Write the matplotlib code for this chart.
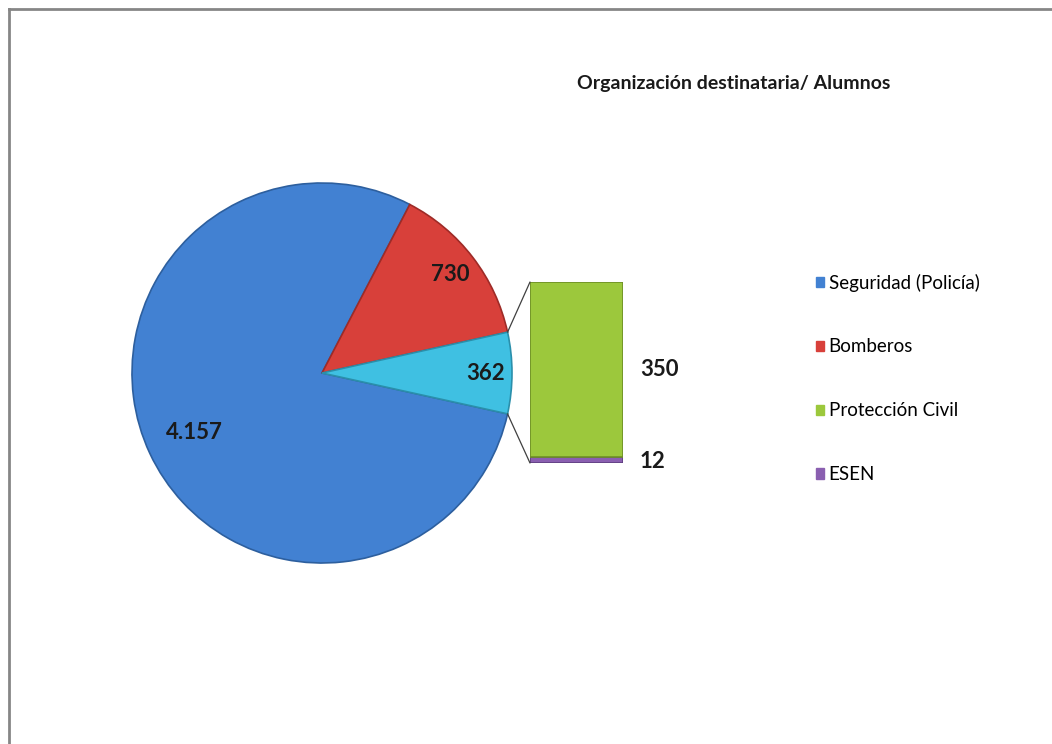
import matplotlib
matplotlib.use("Agg")
import matplotlib.pyplot as plt
from matplotlib.patches import Patch, ConnectionPatch
from matplotlib.lines import Line2D
import numpy as np

# data
pie_labels = ["Seguridad (Policía)", "Bomberos", "Otros"]
pie_values = [4157, 730, 362]
pie_texts = ["4.157", "730", "362"]
bar_labels = ["ESEN", "Protección Civil"]
bar_values = [12, 350]
bar_texts = ["12", "350"]
legend_labels = ["Seguridad (Policía)", "Bomberos", "Protección Civil", "ESEN"]

pie_colors = ["#4281d2", "#d8403a", "#3fc0e2"]
pie_edges = ["#2d5f9e", "#9e2b27", "#2a8fab"]
bar_colors = ["#8a5fb0", "#9cc83c"]
bar_edges = ["#5f3f80", "#6e8f26"]
legend_colors = ["#4281d2", "#d8403a", "#9cc83c", "#8a5fb0"]

plt.rcParams["font.family"] = ["Lato", "DejaVu Sans"]

W, H = 1052, 744
fig = plt.figure(figsize=(W / 100, H / 100), dpi=100)


def px_axes(x0, y0, x1, y1):
    # pixel box (top-left origin) -> figure fraction axes
    return fig.add_axes([x0 / W, 1 - y1 / H, (x1 - x0) / W, (y1 - y0) / H])


# pie of the main groups
cx, cy, r = 322, 373, 190
ax_pie = px_axes(cx - r, cy - r, cx + r, cy + r)
other_frac = pie_values[2] / sum(pie_values)
start = -180 * other_frac
wedges, _ = ax_pie.pie(pie_values, colors=pie_colors, startangle=start,
                       counterclock=False, radius=1,
                       wedgeprops=dict(linewidth=1.2))
for w, ec in zip(wedges, pie_edges):
    w.set_edgecolor(ec)
ax_pie.set_xlim(-1, 1)
ax_pie.set_ylim(-1, 1)
ax_pie.set_aspect("equal")
ax_pie.axis("off")

label_dist = [0.74, 0.85, 0.86]
for w, txt, d in zip(wedges, pie_texts, label_dist):
    mid = np.deg2rad((w.theta1 + w.theta2) / 2)
    ax_pie.text(d * np.cos(mid), d * np.sin(mid), txt, ha="center",
                va="center", fontsize=16, fontweight="bold", color="#1a1a1a")

# bar splitting the "other" slice
ax_bar = px_axes(530, 282, 623, 463)
bottom = 0
for v, c, ec in zip(bar_values, bar_colors, bar_edges):
    ax_bar.bar(0, v, width=1, bottom=bottom, color=c, edgecolor=ec,
               linewidth=1.2)
    bottom += v
ax_bar.set_xlim(-0.5, 0.5)
ax_bar.set_ylim(0, sum(bar_values))
ax_bar.axis("off")

bottom = 0
for v, txt in zip(bar_values, bar_texts):
    ax_bar.text(0.68, bottom + v / 2 if v > 50 else bottom + 2, txt,
                ha="left", va="center", fontsize=16, fontweight="bold",
                color="#1a1a1a", clip_on=False)
    bottom += v

# connector lines from the slice to the bar
w_other = wedges[2]
for ang, yb in [(w_other.theta1, 0), (w_other.theta2, sum(bar_values))]:
    a = np.deg2rad(ang)
    con = ConnectionPatch(xyA=(np.cos(a), np.sin(a)), coordsA=ax_pie.transData,
                          xyB=(-0.5, yb), coordsB=ax_bar.transData,
                          color="#404040", linewidth=0.9)
    fig.add_artist(con)

# title
fig.text(734 / W, 1 - 83 / H, "Organización destinataria/ Alumnos",
         ha="center", va="center", fontsize=14, fontweight="bold",
         color="#1a1a1a")

# legend
handles = [Patch(facecolor=c, edgecolor=c) for c in legend_colors]
fig.legend(handles, legend_labels, loc="upper left",
           bbox_to_anchor=(808 / W, 1 - 266 / H), frameon=False,
           fontsize=13.5, handlelength=0.45, handleheight=0.45,
           handletextpad=0.25, labelspacing=2.5, borderaxespad=0)

# chart frame (only top and left edges visible)
fig.add_artist(Line2D([8.5 / W, 1], [1 - 8.5 / H] * 2, color="#868686",
                      linewidth=2, transform=fig.transFigure))
fig.add_artist(Line2D([8.5 / W] * 2, [0, 1 - 8.5 / H], color="#868686",
                      linewidth=2, transform=fig.transFigure))

fig.savefig("out.png", dpi=100)
